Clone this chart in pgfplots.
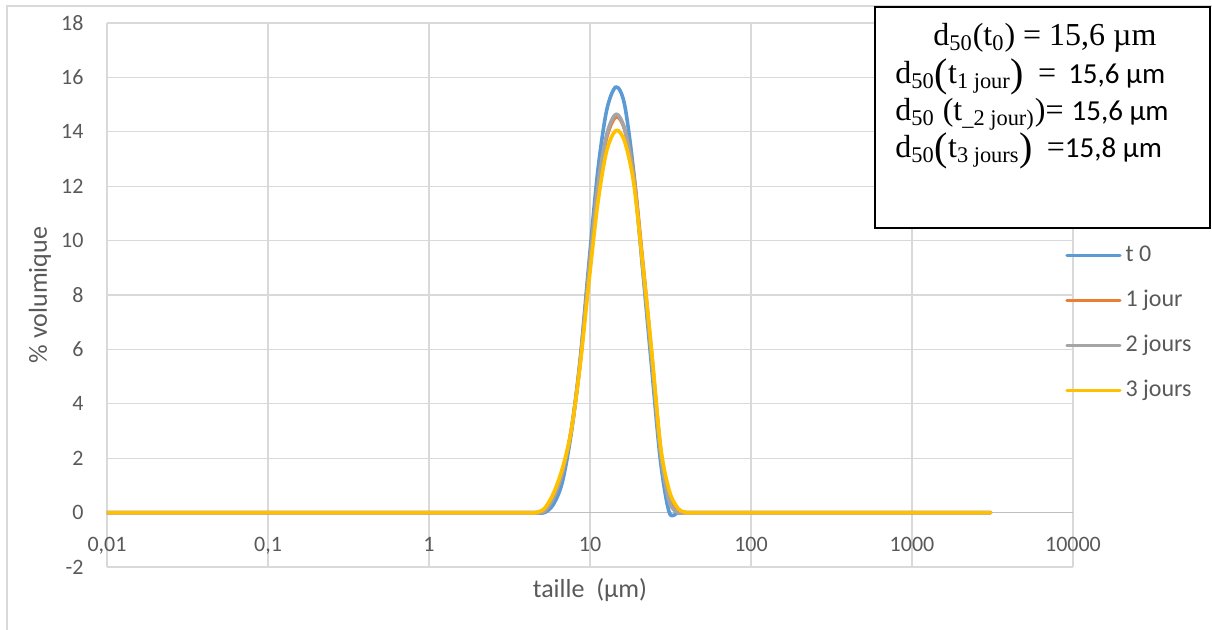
\documentclass[border=0pt]{standalone}
\usepackage{pgfplots}
\pgfplotsset{compat=1.18}
\usepackage{fontspec}
\setmainfont{Carlito}
\newfontfamily\seriffont{Liberation Serif}
\definecolor{cblue}{HTML}{5B9BD5}
\definecolor{corange}{HTML}{ED7D31}
\definecolor{cgray}{HTML}{A5A5A5}
\definecolor{cyellow}{HTML}{FFC000}
\definecolor{gridc}{HTML}{D9D9D9}
\definecolor{axisc}{HTML}{BFBFBF}
\definecolor{textc}{HTML}{595959}
\newcommand{\bigL}{\raisebox{-0.12em}{\fontsize{20}{20}\selectfont(}}
\newcommand{\bigR}{\raisebox{-0.12em}{\fontsize{20}{20}\selectfont)}}
\begin{document}
\begin{tikzpicture}
\useasboundingbox (-53.5pt,-31pt) rectangle (552.5pt,283.5pt);
\draw[gridc, line width=0.75pt] (-50pt,-40pt) -- (-50pt,280.5pt) -- (560pt,280.5pt);
\begin{axis}[
  at={(0pt,0pt)}, anchor=south west,
  scale only axis, width=483pt, height=272pt,
  xmode=log, xmin=0.01, xmax=10000, ymin=-2, ymax=18,
  xtick={0.01,0.1,1,10,100,1000,10000},
  xticklabels={{0,01},{0,1},1,10,100,1000,10000},
  minor xtick={},
  ytick={-2,0,2,4,6,8,10,12,14,16,18},
  yticklabels={-2,0,2,4,6,8,10,12,14,16,18},
  xmajorgrids, ymajorgrids,
  major grid style={draw=gridc, line width=0.6pt},
  axis line style={draw=none},
  major tick length=0pt,
  tick style={draw=none},
  ticklabel style={font=\fontsize{11}{13}\selectfont, text=textc},
  xticklabel style={yshift=18.5pt},
  yticklabel style={xshift=-8.2pt},
  extra y ticks={0}, extra y tick labels={},
  extra y tick style={ymajorgrids=true, major grid style={draw=axisc, line width=0.8pt}},
  xlabel={taille\ \ (µm)}, ylabel={\% volumique},
  label style={font=\fontsize{13}{15}\selectfont, text=textc},
  xlabel style={at={(axis description cs:0.5,-0.0423)}, anchor=center},
  ylabel style={at={(axis description cs:-0.0694,0.5)}, anchor=center},
  legend style={at={(0.9917,0.4485)}, anchor=west, draw=none, fill=none, inner sep=0pt,
    font=\fontsize{12}{14}\selectfont, text=textc, row sep=11.5pt,
    nodes={inner xsep=2pt, inner ysep=0pt, text height=8.5pt, text depth=2.5pt}},
  legend cell align=left,
  legend image code/.code={\draw[#1, line width=1.6pt] (0pt,0pt) -- (26.5pt,0pt);},
  every axis plot/.append style={line width=1.8pt, smooth, line join=round, line cap=round},
]
\addplot[cblue] coordinates {(0.01,0) (1,0) (3.55,0) (4.03,0) (4.58,0) (5.21,0) (5.92,0.3) (6.72,1.1) (7.64,2.9) (8.68,5.6) (9.86,9.2) (11.2,12.6) (12.7,14.8) (14.5,15.65) (16.4,15.0) (18.7,12.5) (21.2,9.0) (24.1,5.4) (27.4,1.9) (31.1,0) (35.3,0) (40.1,0) (100,0) (1000,0) (3080,0)};
\addlegendentry{t 0}
\addplot[corange] coordinates {(0.01,0) (1,0) (3.55,0) (4.03,0) (4.58,0) (5.21,0.05) (5.92,0.55) (6.72,1.45) (7.64,3.0) (8.68,5.5) (9.86,8.9) (11.2,12.0) (12.7,13.8) (14.5,14.55) (16.4,14.1) (18.7,12.4) (21.2,9.3) (24.1,5.9) (27.4,2.4) (31.1,0.5) (35.3,0) (40.1,0) (100,0) (1000,0) (3080,0)};
\addlegendentry{1 jour}
\addplot[cgray] coordinates {(0.01,0) (1,0) (3.55,0) (4.03,0) (4.58,0) (5.21,0.05) (5.92,0.55) (6.72,1.45) (7.64,3.0) (8.68,5.5) (9.86,8.9) (11.2,12.0) (12.7,13.9) (14.5,14.65) (16.4,14.1) (18.7,12.3) (21.2,9.1) (24.1,5.7) (27.4,2.2) (31.1,0.4) (35.3,0) (40.1,0) (100,0) (1000,0) (3080,0)};
\addlegendentry{2 jours}
\addplot[cyellow] coordinates {(0.01,0) (1,0) (3.55,0) (4.03,0) (4.58,0) (5.21,0.15) (5.92,0.7) (6.72,1.6) (7.64,3.0) (8.68,5.4) (9.86,8.5) (11.2,11.4) (12.7,13.3) (14.5,14.05) (16.4,13.65) (18.7,12.1) (21.2,9.2) (24.1,6.0) (27.4,2.45) (31.1,0.8) (35.3,0.15) (40.1,0) (45.6,0) (100,0) (1000,0) (3080,0)};
\addlegendentry{3 jours}
\end{axis}
\draw[black, line width=1pt, fill=white] (384pt,169.5pt) rectangle (551.5pt,280pt);
\node[anchor=base, inner sep=0pt, font=\fontsize{16}{18}\selectfont] at (469pt,261pt) {\seriffont d\textsubscript{50}(t\textsubscript{0}) = 15,6 µm};
\node[anchor=base west, inner sep=0pt, font=\fontsize{16}{18}\selectfont] at (394pt,242pt) {{\seriffont d\textsubscript{50}\bigL t\textsubscript{1 jour}\bigR\hspace{3pt} = \hspace{2pt}}{\fontsize{14.5}{16}\selectfont 15,6 µm}};
\node[anchor=base west, inner sep=0pt, font=\fontsize{16}{18}\selectfont] at (394pt,223.5pt) {{\seriffont d\textsubscript{50} (t\textsubscript{\_2 jour)})= }{\fontsize{14.5}{16}\selectfont 15,6 µm}};
\node[anchor=base west, inner sep=0pt, font=\fontsize{16}{18}\selectfont] at (394pt,205pt) {{\seriffont d\textsubscript{50}\bigL t\textsubscript{3 jours}\bigR\hspace{3pt} =}{\fontsize{14.5}{16}\selectfont 15,8 µm}};
\end{tikzpicture}
\end{document}
